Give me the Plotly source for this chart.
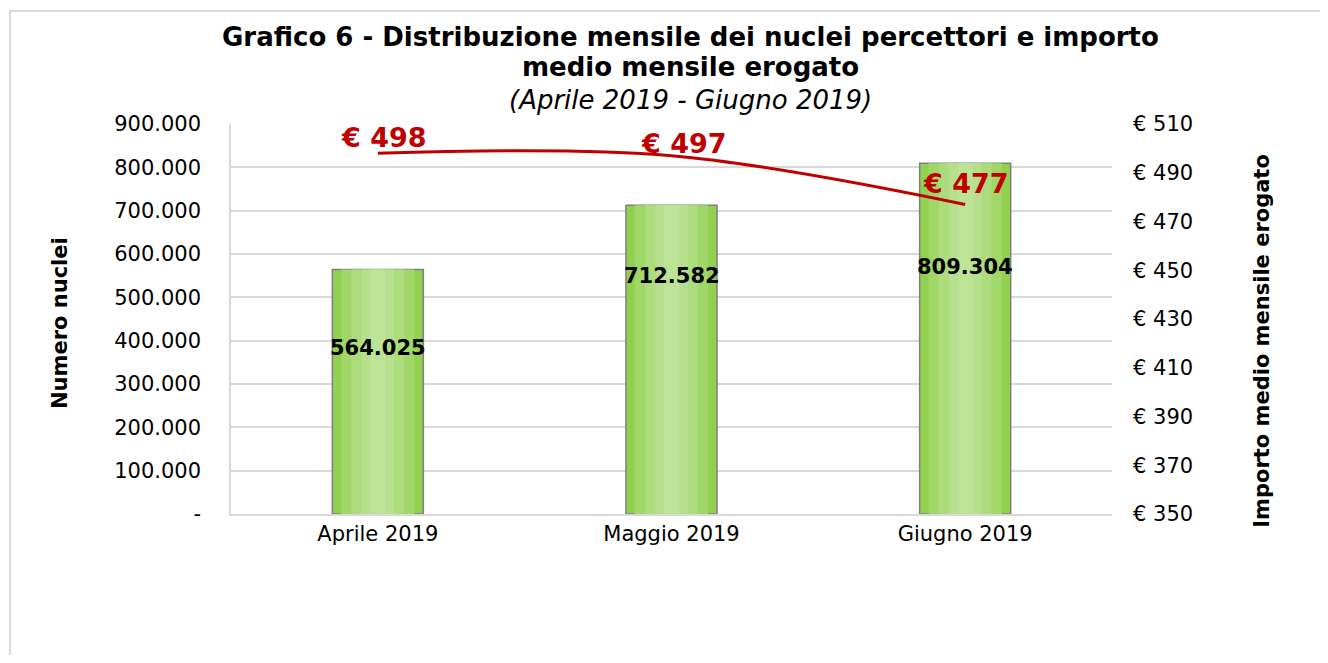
import plotly.graph_objects as go

# data
mesi = ["Aprile 2019", "Maggio 2019", "Giugno 2019"]
nuclei = [564025, 712582, 809304]
importo = [498, 497, 477]

left_ticks = [0, 100000, 200000, 300000, 400000, 500000, 600000, 700000, 800000, 900000]
left_text = ["-", "100.000", "200.000", "300.000", "400.000", "500.000",
             "600.000", "700.000", "800.000", "900.000"]
right_ticks = [350, 370, 390, 410, 430, 450, 470, 490, 510]
right_text = ["€ " + str(v) for v in right_ticks]

FONT = "DejaVu Sans"

def it_num(v):
    return f"{v:,}".replace(",", ".")

fig = go.Figure()

# bars: overlaid layers to imitate the horizontal gradient
layers = [
    (0.31, "#92D050", dict(color="#7F7F7F", width=1.5)),
    (0.25, "#A0D767", dict(width=0)),
    (0.18, "#ACDC7C", dict(width=0)),
    (0.11, "#B6E08D", dict(width=0)),
    (0.05, "#BDE397", dict(width=0)),
]
for w, col, ln in layers:
    fig.add_trace(go.Bar(
        x=mesi, y=nuclei, width=w,
        marker=dict(color=col, line=ln),
        showlegend=False, hoverinfo="skip"))

fig.add_trace(go.Scatter(
    x=mesi, y=importo, yaxis="y2", mode="lines",
    line=dict(color="#C00000", width=3, shape="spline", smoothing=1.0),
    showlegend=False))

# bar value labels (placed inside the bars)
label_y = [383000, 549000, 570000]
for m, v, ly in zip(mesi, nuclei, label_y):
    fig.add_annotation(x=m, y=ly, text=f"<b>{it_num(v)}</b>", showarrow=False,
                       font=dict(family=FONT, size=21, color="black"))

# line value labels
line_off = [(6, 16), (12, 12), (1, 21)]
for m, v, (dx, dy) in zip(mesi, importo, line_off):
    fig.add_annotation(x=m, y=v, yref="y2", text=f"<b>€ {v}</b>", showarrow=False,
                       xshift=dx, yshift=dy,
                       font=dict(family=FONT, size=27, color="#C00000"))

# title lines
titles = [
    ("<b>Grafico 6 - Distribuzione mensile dei nuclei percettori e importo</b>", 1.223),
    ("<b>medio mensile erogato</b>", 1.146),
    ("<i>(Aprile 2019 - Giugno 2019)</i>", 1.0615),
]
for t, ty in titles:
    fig.add_annotation(x=0.521, y=ty, xref="paper", yref="paper", text=t,
                       showarrow=False, xanchor="center", yanchor="middle",
                       font=dict(family=FONT, size=26, color="black"))

# axis titles
fig.add_annotation(x=-0.194, y=0.49, xref="paper", yref="paper",
                   text="<b>Numero nuclei</b>", textangle=-90, showarrow=False,
                   xanchor="center", yanchor="middle",
                   font=dict(family=FONT, size=21, color="black"))
fig.add_annotation(x=1.170, y=0.4436, xref="paper", yref="paper",
                   text="<b>Importo medio mensile erogato</b>", textangle=-90,
                   showarrow=False, xanchor="center", yanchor="middle",
                   font=dict(family=FONT, size=21, color="black"))

# page body has an 8px margin, so the figure is shrunk and shifted accordingly
fig.update_layout(
    width=1312, height=647,
    margin=dict(l=223, r=208, t=116, b=141),
    paper_bgcolor="white", plot_bgcolor="white",
    barmode="overlay",
    font=dict(family=FONT, size=21, color="black"),
    xaxis=dict(showgrid=False, showline=True, linecolor="#D9D9D9", linewidth=1.5,
               tickfont=dict(size=21), ticks=""),
    yaxis=dict(range=[0, 900000], tickvals=left_ticks, ticktext=left_text,
               showgrid=True, gridcolor="#D9D9D9", gridwidth=1.5,
               showline=True, linecolor="#D9D9D9", linewidth=1.5,
               zeroline=False, ticks="", ticklabelstandoff=24),
    yaxis2=dict(range=[350, 510], tickvals=right_ticks, ticktext=right_text,
                overlaying="y", side="right", showgrid=False, zeroline=False,
                ticks="", ticklabelstandoff=20),
)

# outer chart frame
fig.add_shape(type="rect", xref="paper", yref="paper",
              x0=-0.2509, x1=1.26, y0=-0.43, y1=1.2897,
              line=dict(color="#D9D9D9", width=2), layer="below")

fig.write_html("out.html")
